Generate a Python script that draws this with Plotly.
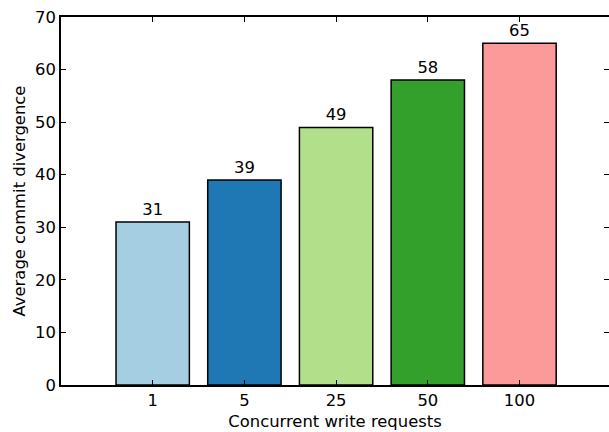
import plotly.graph_objects as go

# Average commit divergence per level of concurrent write requests
categories = ["1", "5", "25", "50", "100"]
divergence = [31, 39, 49, 58, 65]
bar_colors = ["#a6cee3", "#1f78b4", "#b2df8a", "#33a02c", "#fb9a99"]
y_ticks = [0, 10, 20, 30, 40, 50, 60, 70]

font_family = "DejaVu Sans"
font_size = 16.4

fig = go.Figure()
fig.add_trace(go.Bar(
    x=categories,
    y=divergence,
    width=0.8,
    marker=dict(color=bar_colors, line=dict(color="black", width=1.5)),
    text=[str(v) for v in divergence],
    textposition="outside",
    textfont=dict(family=font_family, size=font_size, color="black"),
    cliponaxis=False,
    showlegend=False,
))

# invisible trace carrying the right-hand tick marks
fig.add_trace(go.Scatter(x=categories, y=divergence, yaxis="y2",
                         mode="markers", marker=dict(opacity=0),
                         showlegend=False, hoverinfo="skip"))

axis_font = dict(family=font_family, size=font_size, color="black")

fig.update_layout(
    width=609,
    height=432,
    margin=dict(l=61, r=0, t=17, b=47),
    paper_bgcolor="white",
    plot_bgcolor="white",
    font=axis_font,
    xaxis=dict(
        type="category",
        range=[-1, 4.976],
        showgrid=False,
        zeroline=False,
        showline=True,
        linecolor="black",
        linewidth=1.5,
        mirror="ticks",
        ticks="inside",
        ticklen=5,
        tickwidth=1,
        tickcolor="black",
        tickfont=axis_font,
        title=dict(text="Concurrent write requests", font=axis_font, standoff=6),
    ),
    yaxis=dict(
        range=[0, 70],
        tickvals=y_ticks,
        showgrid=False,
        zeroline=False,
        showline=True,
        linecolor="black",
        linewidth=1.5,
        ticks="inside",
        ticklen=5,
        tickwidth=1,
        tickcolor="black",
        tickfont=axis_font,
        title=dict(text="Average commit divergence", font=axis_font, standoff=5),
    ),
    yaxis2=dict(
        overlaying="y",
        side="right",
        matches="y",
        tickvals=y_ticks,
        showgrid=False,
        zeroline=False,
        showline=False,
        showticklabels=False,
        ticks="inside",
        ticklen=5,
        tickwidth=1,
        tickcolor="black",
    ),
)

fig.write_html("out.html")
